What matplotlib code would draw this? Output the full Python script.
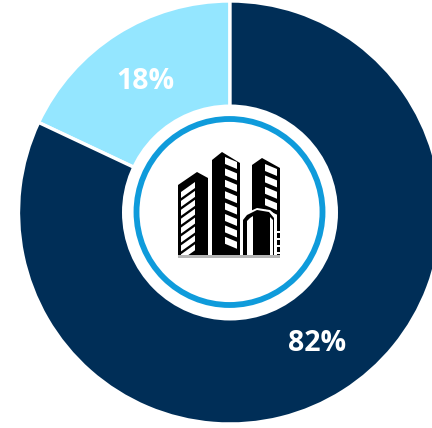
import matplotlib
matplotlib.use("Agg")
import matplotlib.pyplot as plt
from matplotlib.patches import Circle, Polygon, Rectangle

labels = ["18%", "82%"]
values = [18, 82]
colors = ["#94E6FF", "#002E57"]

W, H = 432, 428
fig = plt.figure(figsize=(W / 100, H / 100), dpi=100)
ax = fig.add_axes([0, 0, 1, 1])

def Y(y):
    return H - y

cx, cy, R = 230, 212.5, 211.5
ax.pie(values, colors=colors, startangle=90, counterclock=True, center=(cx, Y(cy)), radius=R,
       wedgeprops=dict(edgecolor="white", linewidth=2.4))
ax.set_xlim(0, W)
ax.set_ylim(0, H)
ax.set_aspect("equal")
ax.axis("off")

ax.add_patch(Circle((cx, Y(cy)), 108, fc="white", ec="none", zorder=3))
ax.add_patch(Circle((229.5, Y(212)), 93, fc="none", ec="#0F9BDB", lw=4.2, zorder=4))

text_kw = dict(color="white", family="Open Sans", weight="bold", fontsize=20.5,
               ha="center", va="center", zorder=5)
ax.text(145, Y(81.5), labels[0], **text_kw)
ax.text(317, Y(343.5), labels[1], **text_kw)

def poly(pts, c="black", z=6):
    ax.add_patch(Polygon([(x, Y(y)) for x, y in pts], closed=True, fc=c, ec="none", zorder=z))

# building icon
poly([(178, 185), (197, 172), (208, 178), (208, 255), (178, 255)])
poly([(212, 160), (222, 152), (240, 163), (240, 255), (212, 255)])
poly([(252, 165), (262, 158), (280, 168), (280, 255), (252, 255)])

for i in range(8):  # left tower windows
    y = 188 + i * 8.9
    poly([(181, y + 4), (195, y - 6), (195, y), (181, y + 10)], "white")
for i in range(8):  # middle tower windows
    y = 157 + i * 11.4
    poly([(225, y), (237, y + 5), (237, y + 12), (225, y + 7)], "white")
for i in range(5):  # right tower windows
    y = 164 + i * 11.4
    poly([(265, y), (277, y + 5), (277, y + 12), (265, y + 7)], "white")

# small arched building
poly([(241, 255), (241, 219), (246, 213), (257, 208), (270, 210), (277, 216), (277, 255)], "white")
poly([(243, 255), (243, 220), (247, 215), (257, 210), (269, 212), (274, 218), (274, 255)])
poly([(247, 255), (247, 221), (250, 218), (253, 216), (253, 255)], "white")
poly([(270, 255), (270, 217), (273, 220), (273, 255)], "white")
for y in (231, 238, 245, 252):
    ax.add_patch(Rectangle((277, Y(y + 2)), 3, 2, fc="white", ec="none", zorder=7))

# faded reflection beneath the icon
ax.add_patch(Rectangle((178, Y(258)), 102, 3, fc="#b5b5b5", ec="none", zorder=6))

fig.savefig("out.png", dpi=100, facecolor="white")
